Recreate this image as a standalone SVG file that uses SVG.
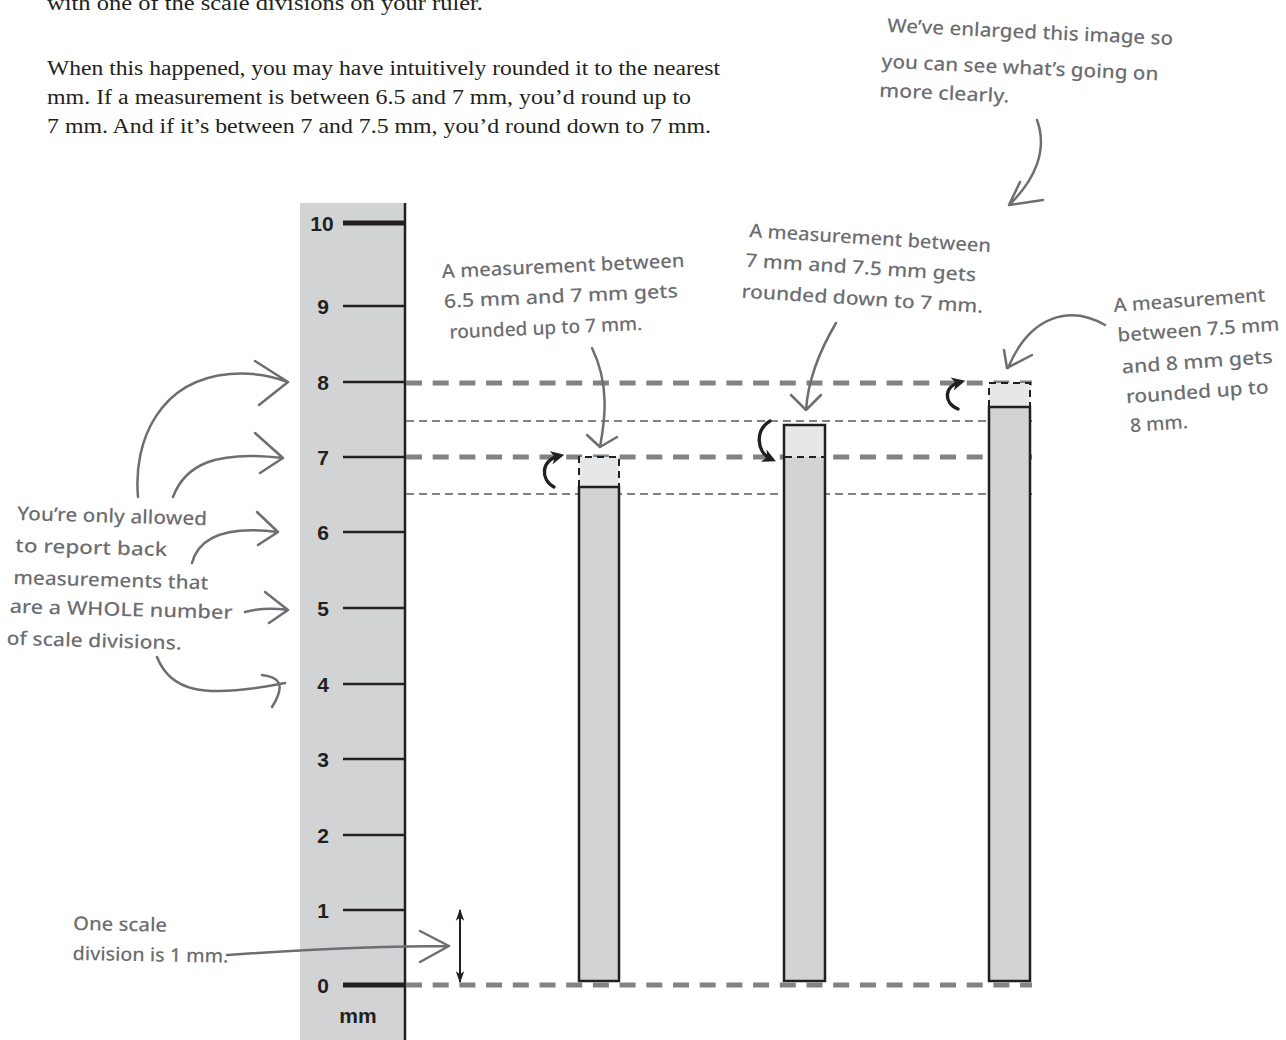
<svg xmlns="http://www.w3.org/2000/svg" width="1286" height="1040" viewBox="0 0 1286 1040">
  <defs>
    <style>
      .body { font-family: "Liberation Serif", "Times New Roman", serif; font-size: 20px; fill: #231f20; }
      .hand { font-family: "Noto Sans", "Open Sans", sans-serif; font-size: 19px; font-weight: 500; fill: #6d6e71; }
      .num { font-family: "Liberation Sans", Arial, sans-serif; font-size: 21px; font-weight: bold; fill: #231f20; text-anchor: middle; }
      .tick { stroke: #231f20; stroke-width: 2.5; }
      .tick-major { stroke: #231f20; stroke-width: 5; }
      .ref-whole { stroke: #808285; stroke-width: 5; stroke-dasharray: 16 10.7; fill: none; }
      .ref-half { stroke: #808285; stroke-width: 2; stroke-dasharray: 8 5; fill: none; }
      .bar { fill: #d1d3d4; stroke: #231f20; stroke-width: 2.5; }
      .ghost { fill: #e6e7e8; stroke: none; }
      .ghost-edge { fill: none; stroke: #231f20; stroke-width: 2; stroke-dasharray: 7 5; }
      .pointer { fill: none; stroke: #6d6e71; stroke-width: 2.5; stroke-linecap: round; stroke-linejoin: round; }
      .curl { fill: none; stroke: #231f20; stroke-width: 3.4; stroke-linecap: round; }
      .span { stroke: #231f20; stroke-width: 2; }
    </style>
    <marker id="curlHead" viewBox="0 0 10 10" refX="6" refY="5" markerWidth="4" markerHeight="4" orient="auto" markerUnits="strokeWidth">
      <path d="M0,0 L10,5 L0,10 L3,5 Z" fill="#231f20"/>
    </marker>
    <marker id="spanHead" viewBox="0 0 10 10" refX="9" refY="5" markerWidth="6" markerHeight="6" orient="auto-start-reverse" markerUnits="strokeWidth">
      <path d="M0,1.5 L10,5 L0,8.5 L2.5,5 Z" fill="#231f20"/>
    </marker>
  </defs>

  <rect width="1286" height="1040" fill="#ffffff"/>

  <!-- paragraph text (first line continues from the previous page) -->
  <g id="paragraph">
    <text class="body" x="47" y="10" textLength="436" lengthAdjust="spacingAndGlyphs">with one of the scale divisions on your ruler.</text>
    <text class="body" x="47" y="75" textLength="673" lengthAdjust="spacingAndGlyphs">When this happened, you may have intuitively rounded it to the nearest</text>
    <text class="body" x="47" y="104" textLength="644" lengthAdjust="spacingAndGlyphs">mm. If a measurement is between 6.5 and 7 mm, you’d round up to</text>
    <text class="body" x="47" y="133" textLength="664" lengthAdjust="spacingAndGlyphs">7 mm. And if it’s between 7 and 7.5 mm, you’d round down to 7 mm.</text>
  </g>

  <!-- ruler -->
  <g id="ruler">
    <rect x="300" y="203" width="105" height="837" fill="#d1d3d4"/>
    <line x1="405" y1="203" x2="405" y2="1040" stroke="#231f20" stroke-width="2.5"/>
    <line class="tick-major" x1="343" y1="223" x2="405" y2="223"/>
    <line class="tick" x1="343" y1="306" x2="405" y2="306"/>
    <line class="tick" x1="343" y1="382" x2="405" y2="382"/>
    <line class="tick" x1="343" y1="457" x2="405" y2="457"/>
    <line class="tick" x1="343" y1="532" x2="405" y2="532"/>
    <line class="tick" x1="343" y1="608" x2="405" y2="608"/>
    <line class="tick" x1="343" y1="684" x2="405" y2="684"/>
    <line class="tick" x1="343" y1="759" x2="405" y2="759"/>
    <line class="tick" x1="343" y1="835" x2="405" y2="835"/>
    <line class="tick" x1="343" y1="910" x2="405" y2="910"/>
    <line class="tick-major" x1="343" y1="985" x2="405" y2="985"/>
    <text class="num" x="322" y="231">10</text>
    <text class="num" x="323" y="314">9</text>
    <text class="num" x="323" y="390">8</text>
    <text class="num" x="323" y="465">7</text>
    <text class="num" x="323" y="540">6</text>
    <text class="num" x="323" y="616">5</text>
    <text class="num" x="323" y="692">4</text>
    <text class="num" x="323" y="767">3</text>
    <text class="num" x="323" y="843">2</text>
    <text class="num" x="323" y="918">1</text>
    <text class="num" x="323" y="993">0</text>
    <text class="num" x="358" y="1023">mm</text>
  </g>

  <!-- reference levels: whole mm (thick) and half mm (thin) -->
  <g id="levels">
    <line class="ref-whole" x1="406" y1="383" x2="1032" y2="383"/>
    <line class="ref-half" x1="406" y1="421" x2="1032" y2="421"/>
    <line class="ref-whole" x1="406" y1="457" x2="1032" y2="457"/>
    <line class="ref-half" x1="406" y1="494" x2="1032" y2="494"/>
  </g>

  <!-- measured bars -->
  <g id="bar-up-7">
    <rect class="ghost" x="579" y="457" width="40" height="30"/>
    <path class="ghost-edge" d="M579,487 V457 H619 V487"/>
    <rect class="bar" x="579" y="487" width="40" height="494"/>
  </g>
  <g id="bar-down-7">
    <rect x="784" y="425" width="41" height="32" fill="#e6e7e8"/>
    <rect x="784" y="457" width="41" height="524" fill="#d1d3d4"/>
    <line x1="785" y1="457" x2="824" y2="457" stroke="#231f20" stroke-width="2" stroke-dasharray="7 5"/>
    <rect x="784" y="425" width="41" height="556" fill="none" stroke="#231f20" stroke-width="2.5"/>
  </g>
  <g id="bar-up-8">
    <rect class="ghost" x="989" y="383" width="41" height="24"/>
    <path class="ghost-edge" d="M989,407 V383 H1030 V407"/>
    <rect class="bar" x="989" y="407" width="41" height="574"/>
  </g>

  <!-- zero level drawn over the bar bases -->
  <g id="zero-level">
    <line class="ref-whole" x1="406" y1="985" x2="1032" y2="985"/>
  </g>

  <!-- annotations -->
  <g id="note-enlarged" transform="rotate(2.6 887 32)">
    <text class="hand" x="887" y="32" textLength="286" lengthAdjust="spacingAndGlyphs">We’ve enlarged this image so</text>
    <text class="hand" x="883" y="68" textLength="277" lengthAdjust="spacingAndGlyphs">you can see what’s going on</text>
    <text class="hand" x="882" y="97" textLength="130" lengthAdjust="spacingAndGlyphs">more clearly.</text>
  </g>
  <g id="note-up-7" transform="rotate(-2.6 442 278)">
    <text class="hand" x="442" y="278" textLength="243" lengthAdjust="spacingAndGlyphs">A measurement between</text>
    <text class="hand" x="443" y="308" textLength="234" lengthAdjust="spacingAndGlyphs">6.5 mm and 7 mm gets</text>
    <text class="hand" x="447" y="339" textLength="193" lengthAdjust="spacingAndGlyphs">rounded up to 7 mm.</text>
  </g>
  <g id="note-down-7" transform="rotate(3.6 749 237)">
    <text class="hand" x="749" y="237" textLength="242" lengthAdjust="spacingAndGlyphs">A measurement between</text>
    <text class="hand" x="747" y="267" textLength="231" lengthAdjust="spacingAndGlyphs">7 mm and 7.5 mm gets</text>
    <text class="hand" x="745" y="298" textLength="242" lengthAdjust="spacingAndGlyphs">rounded down to 7 mm.</text>
  </g>
  <g id="note-up-8" transform="rotate(-4 1114 312)">
    <text class="hand" x="1114" y="312" textLength="152" lengthAdjust="spacingAndGlyphs">A measurement</text>
    <text class="hand" x="1116" y="342" textLength="162" lengthAdjust="spacingAndGlyphs">between 7.5 mm</text>
    <text class="hand" x="1118" y="374" textLength="151" lengthAdjust="spacingAndGlyphs">and 8 mm gets</text>
    <text class="hand" x="1120" y="404" textLength="143" lengthAdjust="spacingAndGlyphs">rounded up to</text>
    <text class="hand" x="1122" y="433" textLength="58" lengthAdjust="spacingAndGlyphs">8 mm.</text>
  </g>
  <g id="note-whole" transform="rotate(1.6 17 520)">
    <text class="hand" x="17" y="520" textLength="190" lengthAdjust="spacingAndGlyphs">You’re only allowed</text>
    <text class="hand" x="16" y="552" textLength="152" lengthAdjust="spacingAndGlyphs">to report back</text>
    <text class="hand" x="15" y="584" textLength="195" lengthAdjust="spacingAndGlyphs">measurements that</text>
    <text class="hand" x="12" y="613" textLength="223" lengthAdjust="spacingAndGlyphs">are a WHOLE number</text>
    <text class="hand" x="10" y="645" textLength="175" lengthAdjust="spacingAndGlyphs">of scale divisions.</text>
  </g>
  <g id="note-division" transform="rotate(1 73 930)">
    <text class="hand" x="73" y="930" textLength="94" lengthAdjust="spacingAndGlyphs">One scale</text>
    <text class="hand" x="73" y="960" textLength="156" lengthAdjust="spacingAndGlyphs">division is 1 mm.</text>
  </g>

  <!-- connectors -->
  <g id="connectors">
    <!-- hand-drawn pointers -->
    <path class="pointer" d="M1037,120 C1048,150 1035,180 1009,205 M1020,182 L1009,205 L1043,200"/>
    <path class="pointer" d="M592,348 C610,385 605,420 600,447 M587,435 L600,447 L617,437"/>
    <path class="pointer" d="M836,323 C820,350 808,380 806,410 M791,395 L806,410 L821,395"/>
    <path class="pointer" d="M1105,325 C1070,305 1030,315 1008,368 M1004,350 L1007,368 L1032,355"/>
    <path class="pointer" d="M138,497 C133,440 160,380 230,374 C255,372 272,376 288,382 M255,361 L288,382 L259,405"/>
    <path class="pointer" d="M173,497 C185,465 215,450 283,458 M255,433 L283,458 L260,473"/>
    <path class="pointer" d="M192,563 C198,540 220,525 278,532 M257,512 L278,532 L258,545"/>
    <path class="pointer" d="M245,612 C260,608 275,608 288,610 M265,592 L288,610 L269,623"/>
    <path class="pointer" d="M157,657 C170,690 200,700 285,683 M262,675 C278,677 287,683 272,707"/>
    <path class="pointer" d="M227,955 C300,950 380,946 449,946 M420,931 L449,946 L420,962"/>

    <!-- rounding direction curls -->
    <path class="curl" d="M554,487 C540,479 541,460 559,456" marker-end="url(#curlHead)"/>
    <path class="curl" d="M770,421 C755,430 756,452 771,459" marker-end="url(#curlHead)"/>
    <path class="curl" d="M958,409 C943,403 944,386 960,382" marker-end="url(#curlHead)"/>

    <!-- one-division span -->
    <line class="span" x1="460" y1="910" x2="460" y2="982" marker-start="url(#spanHead)" marker-end="url(#spanHead)"/>
  </g>
</svg>
